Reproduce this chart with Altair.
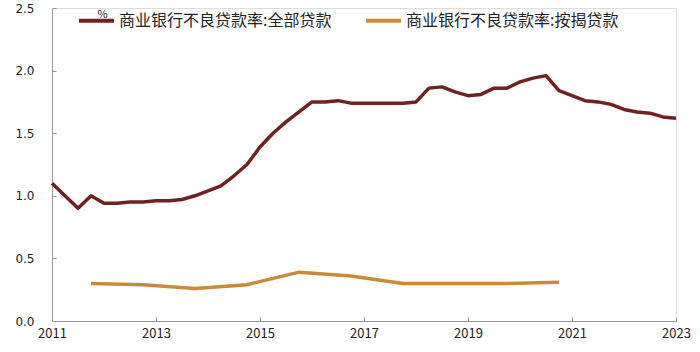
import altair as alt
import pandas as pd

# Quarterly NPL ratio, all loans (%), 2011Q1 .. 2023Q1
all_quarters = [f"{y}Q{q}" for y in range(2011, 2023) for q in range(1, 5)] + ["2023Q1"]
all_values = [1.10, 1.00, 0.90, 1.00,
              0.94, 0.94, 0.95, 0.95,
              0.96, 0.96, 0.97, 1.00,
              1.04, 1.08, 1.16, 1.25,
              1.39, 1.50, 1.59, 1.67,
              1.75, 1.75, 1.76, 1.74,
              1.74, 1.74, 1.74, 1.74,
              1.75, 1.86, 1.87, 1.83,
              1.80, 1.81, 1.86, 1.86,
              1.91, 1.94, 1.96, 1.84,
              1.80, 1.76, 1.75, 1.73,
              1.69, 1.67, 1.66, 1.63,
              1.62]

# Annual NPL ratio, mortgage loans (%), year-end
mort_quarters = [f"{y}Q4" for y in range(2011, 2021)]
mort_values = [0.30, 0.29, 0.26, 0.29, 0.39, 0.36, 0.30, 0.30, 0.30, 0.31]

s_all = "商业银行不良贷款率:全部贷款"
s_mort = "商业银行不良贷款率:按揭贷款"
x_ticks = [2011, 2013, 2015, 2017, 2019, 2021, 2023]
y_ticks = [0.0, 0.5, 1.0, 1.5, 2.0, 2.5]


def qpos(label):
    y, q = label.split("Q")
    return int(y) + (int(q) - 1) / 4


df = pd.concat([
    pd.DataFrame({"t": [qpos(q) for q in all_quarters], "v": all_values, "s": s_all}),
    pd.DataFrame({"t": [qpos(q) for q in mort_quarters], "v": mort_values, "s": s_mort}),
])

FONT = "Noto Sans CJK SC"

chart = alt.Chart(df).mark_line(strokeWidth=3.5, strokeJoin="round").encode(
    x=alt.X("t:Q",
            scale=alt.Scale(domain=[2011, 2023], nice=False, zero=False),
            axis=alt.Axis(values=x_ticks, format="d", title=None, grid=False,
                          domainColor="#9a9a9a", tickColor="#9a9a9a",
                          tickSize={"expr": "-4"},
                          labelFont=FONT, labelFontSize=13, labelColor="#222",
                          labelPadding=10, labelFlush=False)),
    y=alt.Y("v:Q",
            scale=alt.Scale(domain=[0, 2.5], nice=False),
            axis=alt.Axis(values=y_ticks, format=".1f", title="%", grid=False,
                          domainColor="#9a9a9a", tickColor="#9a9a9a",
                          tickSize={"expr": "-4"},
                          labelFont="DejaVu Sans", labelFontSize=12, labelColor="#222",
                          labelPadding=22,
                          titleAngle=0, titleX=45, titleY=6, titleAlign="left",
                          titleBaseline="middle", titleFont=FONT, titleFontSize=11,
                          titleFontWeight="normal", titleColor="#222")),
    color=alt.Color("s:N",
                    scale=alt.Scale(domain=[s_all, s_mort], range=["#6E2222", "#C98B3A"]),
                    legend=alt.Legend(title=None, orient="none", direction="horizontal",
                                      legendX=25, legendY=-7, symbolType="stroke",
                                      symbolSize=1225, symbolStrokeWidth=4,
                                      labelFont=FONT, labelFontSize=16, labelColor="#222",
                                      labelOffset=3, columnPadding=26, labelLimit=400)),
).properties(
    width=624, height=313,
    autosize=alt.AutoSizeParams(type="none"),
    padding={"left": 52, "top": 8, "right": 24, "bottom": 31},
).configure_view(stroke=None).configure(background="white")

chart.save("out.html", embed_options={"renderer": "svg", "actions": False})
